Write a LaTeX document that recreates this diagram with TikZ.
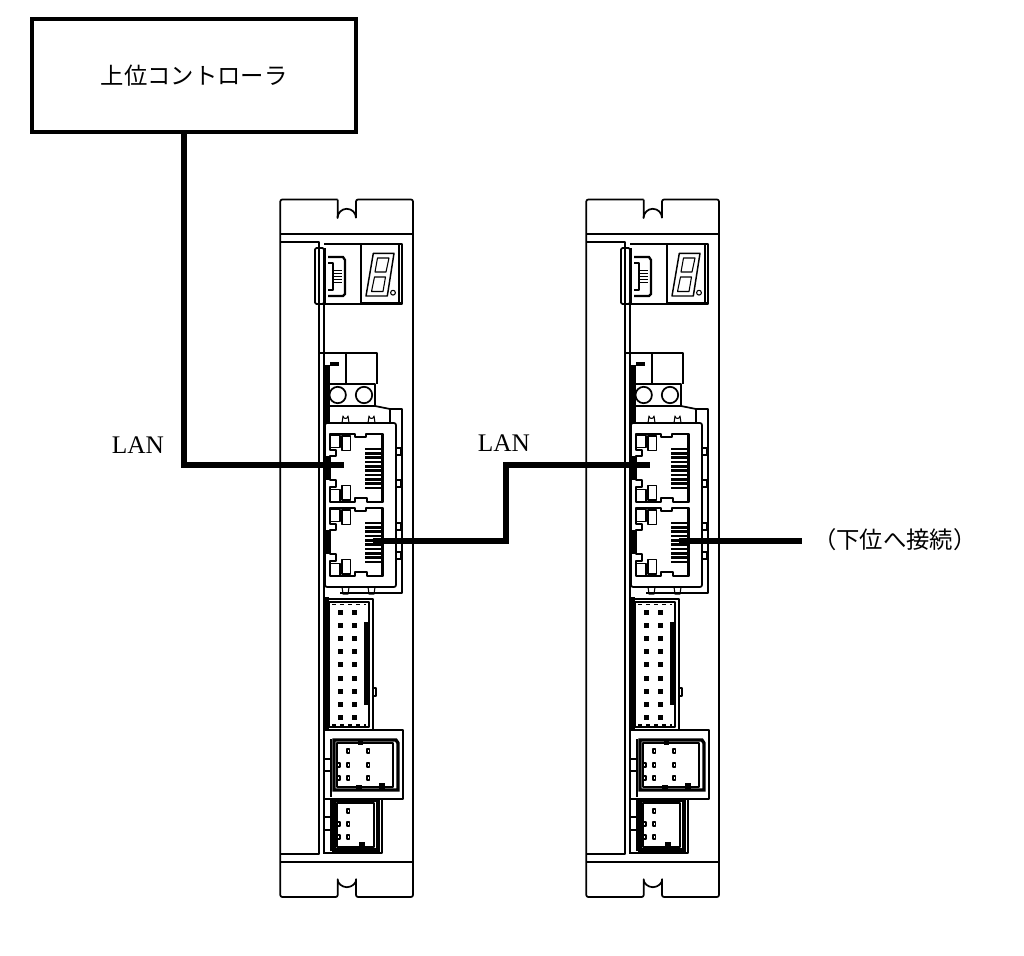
\documentclass[tikz,border=0pt]{standalone}
\usepackage{fontspec}
\setmainfont{Liberation Serif}
\newfontfamily\cjk{Noto Sans CJK JP}
\tikzset{
  px/.style={x=0.75pt,y=-0.75pt},
  thinln/.style={draw=black,line width=0.8pt,line join=round},
  medln/.style={draw=black,line width=1.3pt,line join=round},
  heavyln/.style={draw=black,line width=2.4pt,line join=miter},
  solid black/.style={fill=black,draw=none},
  cable/.style={draw=black,line width=3.9pt,line join=miter},
  ctrl/.style={draw=black,line width=3pt,fill=white,minimum width=243pt,minimum height=85pt,inner sep=0pt},
  lbl/.style={inner sep=0pt,font=\fontsize{19}{22}\selectfont},
  jlbl/.style={inner sep=0pt,font=\cjk\fontsize{17.5}{20}\selectfont},
  pics/rjport/.style={code={
    \begin{scope}[x=0.25pt,y=-0.25pt]
      \draw[medln,line width=1.4pt] (60,150)--(60,102)--(135,102)--(135,112)--(168,112)--(168,102)--(218,102)--(218,305)--(170,305)--(170,293)--(135,293)--(135,305)--(60,305)--(60,262)--(78,262)--(78,240)--(60,240)--(60,168)--(78,168)--(78,150)--cycle;
      \draw[thinln] (60,106)--(90,106)--(90,142)--(60,142);
      \draw[thinln] (96,108)--(122,108)--(122,152)--(96,152)--cycle;
      \draw[thinln] (60,268)--(90,268)--(90,303);
      \draw[thinln] (96,256)--(122,256)--(122,300)--(96,300)--cycle;
      \fill[black] (48,168) rectangle (60,240);
      \fill[black] (212,102) rectangle (220,305);
      \foreach \yy in {143,156,169,182,195,208,221,234,247,260}
        \fill[black] (165,\yy) rectangle (212,\yy+8);
    \end{scope}
  }},
  pics/device/.style={code={
    % body outline (origin = reference position of the left module)
    \draw[medln,rounded corners=1.5pt] (337.7,199.5)--(280.3,199.5)--(280.3,897)--(337.7,897)--(337.7,878) arc[start angle=180,end angle=0,x radius=9.2,y radius=9.2]--(356,897)--(413,897)--(413,199.5)--(356,199.5)--(356,218);
    \draw[medln] (356,218) arc[start angle=0,end angle=-180,x radius=9.2,y radius=9.2]--(337.7,199.5);
    \draw[medln] (280.3,234)--(413,234);
    \draw[medln] (280.3,862)--(413,862);
    \draw[medln] (280.3,241.7)--(319.3,241.7)--(319.3,854)--(280.3,854);
    \draw[medln] (324.3,304)--(324.3,854);
    % display and USB
    \draw[medln] (324,244)--(402,244)--(402,304)--(324,304);
    \fill[black] (361,302) rectangle (402,304.5);
    \draw[medln] (361,244)--(361,304);
    \draw[thinln] (399,244)--(399,304);
    \draw[medln,rounded corners=1pt] (324,248)--(315,248)--(315,304)--(324,304)--cycle;
    \fill[black] (324,248) rectangle (326,304);
    \draw[heavyln,line width=1.7pt] (328,257)--(343,257)--(345,260)--(345,294)--(343,296)--(328,296);
    \draw[thinln] (328,263)--(333,263)--(333,290)--(328,290);
    \foreach \yy in {270,273,276,279,282}\draw[thinln,line width=0.4pt] (333,\yy)--(342,\yy);
    % seven segment digit
    \draw[medln,line width=1.1pt] (373.3,253.3)--(394,253.3)--(387.3,296)--(366,296)--cycle;
    \draw[thinln] (377.5,258)--(389,258)--(386,272)--(375,272)--cycle;
    \draw[thinln] (374.5,277)--(385.5,277)--(383,291.5)--(371.5,291.5)--cycle;
    \draw[thinln] (393,292.7) circle[radius=2.4];
    % terminal block
    \draw[medln] (319.3,353)--(377,353)--(377,384);
    \draw[medln] (346,353)--(346,384);
    \draw[medln] (327,384)--(375,384)--(375,406)--(327,406)--cycle;
    \draw[medln] (337.7,395) circle[radius=8.2];
    \draw[medln] (364,395) circle[radius=8.2];
    \fill[black] (324.3,365) rectangle (330,423);
    \fill[black] (330,362) rectangle (339,365.5);
    % RJ45 housing
    \draw[medln,rounded corners=1.5pt] (325,423)--(396,423)--(396,587)--(325,587)--cycle;
    \draw[medln] (375,406)--(390,409)--(402,409)--(402,593)--(340,593);
    \draw[medln] (390,409)--(390,423);
    \draw[thinln] (396,448)--(401,448)--(401,455)--(396,455);
    \draw[thinln] (396,480)--(401,480)--(401,487)--(396,487);
    \draw[thinln] (396,523)--(401,523)--(401,530)--(396,530);
    \draw[thinln] (396,552)--(401,552)--(401,559)--(396,559);
    \draw[thinln] (342,423)--(343,416) arc[start angle=180,end angle=0,radius=2.5]--(349,423);
    \draw[thinln] (368,423)--(369,416) arc[start angle=180,end angle=0,radius=2.5]--(375,423);
    \draw[thinln] (342,587)--(343,594)--(348,594)--(349,587);
    \draw[thinln] (368,587)--(369,594)--(374,594)--(375,587);
    \pic at (310,400) {rjport};
    \pic at (310,474) {rjport};
    % header
    \draw[medln] (324,599)--(373,599)--(373,730);
    \fill[black] (324,597) rectangle (329,730);
    \draw[medln] (329,602)--(369,602)--(369,727)--(329,727)--cycle;
    \fill[black] (364,622) rectangle (369,705);
    \draw[thinln] (373,688)--(376,688)--(376,696)--(373,696);
    \draw[thinln,dashed] (332,604.5)--(366,604.5);
    \draw[thinln,dashed] (332,725)--(366,725);
    \foreach \yy in {612,625.2,638.4,651.6,664.8,678,691.2,704.4,717.6}{
      \fill[black] (337.5,\yy-2.5) rectangle (342.5,\yy+2.5);
      \fill[black] (351.5,\yy-2.5) rectangle (356.5,\yy+2.5);
    }
    % connector A
    \draw[medln] (324,730)--(403,730)--(403,799)--(324,799)--cycle;
    \draw[heavyln] (334,740)--(396,740)--(398,743)--(398,790)--(334,790)--cycle;
    \draw[thinln] (337,743)--(393,743)--(393,787)--(337,787)--cycle;
    \draw[thinln] (331,739)--(331,797);
    \draw[thinln] (324,759)--(331,759);
    \draw[thinln] (324,771)--(331,771);
    \fill[black] (358,741) rectangle (363,745);
    \fill[black] (356,785) rectangle (362,789);
    \fill[black] (379,783) rectangle (385,789);
    \foreach \yy in {751,765,778}{
      \draw[medln,line width=1pt] (347,\yy-2)rectangle(349.5,\yy+2);
      \draw[medln,line width=1pt] (367,\yy-2)rectangle(369.5,\yy+2);
    }
    \draw[thinln] (337,763)rectangle(340,767);
    \draw[thinln] (337,776)rectangle(340,780);
    % connector B
    \draw[medln] (324,799)--(382,799)--(382,853)--(324,853);
    \draw[heavyln] (334,800)--(378,800)--(378,850)--(334,850)--cycle;
    \draw[thinln] (337,803)--(374,803)--(374,847)--(337,847)--cycle;
    \draw[thinln] (331,800)--(331,851);
    \draw[thinln] (324,817)--(331,817);
    \draw[thinln] (324,830)--(331,830);
    \fill[black] (359,842) rectangle (365,847);
    \foreach \yy in {811,824,837}
      \draw[medln,line width=1pt] (347,\yy-2)rectangle(349.5,\yy+2);
    \draw[thinln] (337,822)rectangle(340,826);
    \draw[thinln] (337,835)rectangle(340,839);
    % cable attachment points
    \coordinate (-in) at (344,465);
    \coordinate (-out) at (373,541);
  }}
}
\begin{document}
\begin{tikzpicture}[px]
  \useasboundingbox (0,0) rectangle (1024,956);
  \fill[white] (0,0) rectangle (1024,956);
  \pic (left) at (0,0) {device};
  \pic (right) at (306,0) {device};
  \node[ctrl,anchor=north west,jlbl] (controller) at (30,17) {上位コントローラ};
  \node[lbl] (lan1) at (138,445) {LAN};
  \node[lbl] (lan2) at (504,443) {LAN};
  \node[jlbl,anchor=west] (down) at (813,540) {（下位へ接続）};
  \coordinate (bend1) at (184,465);
  \coordinate (bend2) at (506,541);
  \coordinate (bend3) at (506,465);
  \coordinate (free) at (802,541);
  \draw[cable] (controller.south -| bend1)--(bend1)--(left-in);
  \draw[cable] (left-out)--(bend2)--(bend3)--(right-in);
  \draw[cable] (right-out)--(free);
\end{tikzpicture}
\end{document}
